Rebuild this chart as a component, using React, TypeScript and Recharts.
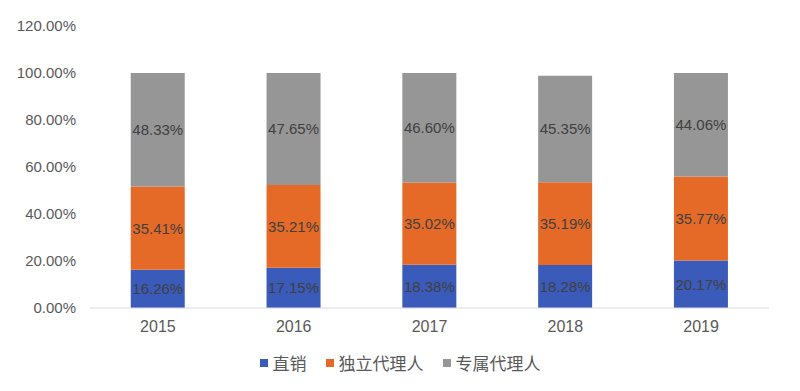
import { BarChart, Bar, XAxis, YAxis, Legend, LabelList } from 'recharts';

const years = ['2015', '2016', '2017', '2018', '2019'];
const directSales = [16.26, 17.15, 18.38, 18.28, 20.17];
const independentAgents = [35.41, 35.21, 35.02, 35.19, 35.77];
const exclusiveAgents = [48.33, 47.65, 46.6, 45.35, 44.06];
const yTicks = [0, 20, 40, 60, 80, 100, 120];

const SERIES = [
  { key: 'direct', name: '直销', color: '#3A5BB9' },
  { key: 'independent', name: '独立代理人', color: '#E56A27' },
  { key: 'exclusive', name: '专属代理人', color: '#969696' },
];

const data = years.map((year, i) => ({
  year,
  direct: directSales[i],
  independent: independentAgents[i],
  exclusive: exclusiveAgents[i],
}));

const FONT = '"Liberation Sans", Arial, sans-serif';
const pct = (v: number) => `${Number(v).toFixed(2)}%`;

const LegendContent = () => (
  <div style={{ display: 'flex', justifyContent: 'center', gap: 19, fontFamily: '"Noto Sans CJK SC", sans-serif', fontSize: 17, color: '#595959', lineHeight: '20px' }}>
    {SERIES.map((s) => (
      <div key={s.key} style={{ display: 'flex', alignItems: 'center' }}>
        <span style={{ width: 8, height: 8, background: s.color, marginRight: 5, display: 'inline-block' }} />
        <span>{s.name}</span>
      </div>
    ))}
  </div>
);

export default function App() {
  return (
    <div style={{ position: 'absolute', left: 0, top: 0, width: 800, height: 391, background: '#fff' }}>
      <BarChart
        width={800}
        height={391}
        data={data}
        margin={{ top: 26, right: 31, left: 0, bottom: 53 }}
        barCategoryGap="30%"
      >
        <XAxis
          dataKey="year"
          tickLine={false}
          tickSize={0}
          tickMargin={13}
          height={30}
          stroke="#D9D9D9"
          tick={{ fill: '#595959', fontSize: 16, fontFamily: FONT }}
        />
        <YAxis
          width={90}
          domain={[0, 120]}
          ticks={yTicks}
          interval={0}
          axisLine={false}
          tickLine={false}
          tickSize={0}
          tickMargin={14}
          tickFormatter={pct}
          tick={{ fill: '#595959', fontSize: 15, fontFamily: FONT }}
        />
        <Legend
          verticalAlign="middle"
          layout="horizontal"
          content={<LegendContent />}
          wrapperStyle={{ top: 353, left: 0, width: 800 }}
        />
        {SERIES.map((s) => (
          <Bar key={s.key} dataKey={s.key} name={s.name} stackId="a" fill={s.color} isAnimationActive={false}>
            <LabelList
              dataKey={s.key}
              position="center"
              formatter={pct}
              fill="#404040"
              fontSize={15}
              fontFamily={FONT}
            />
          </Bar>
        ))}
      </BarChart>
    </div>
  );
}
